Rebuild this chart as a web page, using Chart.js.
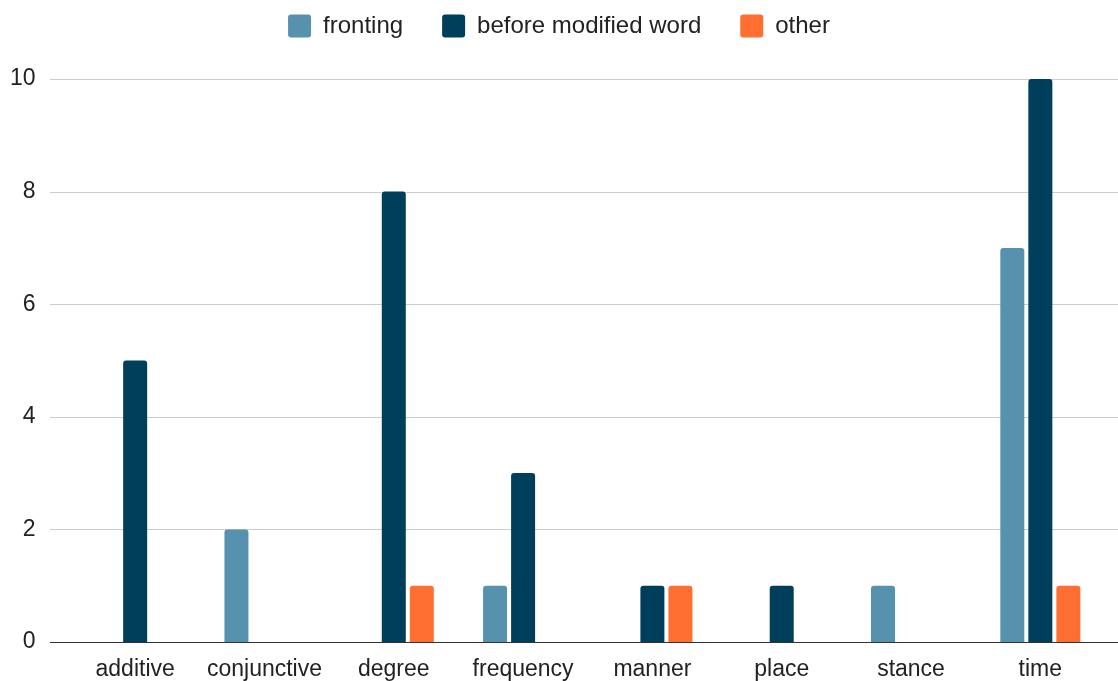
<!DOCTYPE html>
<html>
<head>
<meta charset="utf-8">
<script src="https://cdn.jsdelivr.net/npm/chart.js@4/dist/chart.umd.min.js"></script>
<style>
  html, body { margin: 0; padding: 0; background: #fff; }
  #wrap { width: 1118px; height: 681px; }
</style>
</head>
<body>
<div id="wrap"><canvas id="c" width="1118" height="681"></canvas></div>
<script>
const categories = ['additive', 'conjunctive', 'degree', 'frequency', 'manner', 'place', 'stance', 'time'];
const fronting = [0, 2, 0, 1, 0, 0, 1, 7];
const beforeModifiedWord = [5, 0, 8, 3, 1, 1, 0, 10];
const other = [0, 0, 1, 0, 1, 0, 0, 1];
const yTicks = [0, 2, 4, 6, 8, 10];

const FONT = '"Liberation Sans", Arial, sans-serif';
const FONT_SIZE = 23;
const LEGEND_FONT_SIZE = 24;

// horizontal gridlines run the full plot width, past the category band
const wideGrid = {
  id: 'wideGrid',
  beforeDatasetsDraw(chart) {
    const y = chart.scales.y, ctx = chart.ctx;
    ctx.save();
    ctx.strokeStyle = '#cccccc';
    ctx.lineWidth = 1;
    yTicks.forEach(v => {
      if (v === 0) return;
      const py = Math.round(y.getPixelForValue(v)) + 0.5;
      ctx.beginPath(); ctx.moveTo(50, py); ctx.lineTo(1118, py); ctx.stroke();
    });
    ctx.restore();
  },
  afterDatasetsDraw(chart) {
    const y = chart.scales.y, ctx = chart.ctx;
    const py = Math.round(y.getPixelForValue(0)) + 0.5;
    ctx.save();
    ctx.strokeStyle = '#333333';
    ctx.lineWidth = 1.2;
    ctx.beginPath(); ctx.moveTo(50, py); ctx.lineTo(1118, py); ctx.stroke();
    ctx.restore();
  }
};

// extra room between the legend row and the plot
const legendGap = {
  id: 'legendGap',
  beforeLayout(chart) {
    const lg = chart.legend;
    if (lg && !lg._gapPatched) {
      const fit = lg.fit;
      lg.fit = function () { fit.call(this); this.height += 31; };
      lg._gapPatched = true;
    }
  }
};

const barStyle = { borderRadius: 3, borderSkipped: 'start', categoryPercentage: 0.65, barPercentage: 0.857 };

new Chart(document.getElementById('c'), {
  type: 'bar',
  data: {
    labels: categories,
    datasets: [
      Object.assign({ label: 'fronting', data: fronting, backgroundColor: '#5691ad' }, barStyle),
      Object.assign({ label: 'before modified word', data: beforeModifiedWord, backgroundColor: '#003f5c' }, barStyle),
      Object.assign({ label: 'other', data: other, backgroundColor: '#ff6f31' }, barStyle)
    ]
  },
  options: {
    responsive: false,
    animation: false,
    layout: { padding: { left: 0, right: 0, top: -25, bottom: 0 } },
    plugins: {
      tooltip: { enabled: false },
      legend: {
        position: 'top',
        labels: {
          font: { family: FONT, size: LEGEND_FONT_SIZE },
          color: '#222222',
          boxWidth: 23,
          boxHeight: 23,
          padding: 39,
          useBorderRadius: true,
          borderRadius: 3
        }
      }
    },
    scales: {
      x: {
        grid: { display: false, drawTicks: false },
        border: { display: false },
        ticks: { font: { family: FONT, size: FONT_SIZE }, color: '#222222', padding: 14, maxRotation: 0 },
        afterFit(s) { s.height = 39; }
      },
      y: {
        min: 0, max: 10,
        grid: { display: false, drawTicks: false },
        border: { display: false },
        ticks: {
          stepSize: 2,
          font: { family: FONT, size: FONT_SIZE },
          color: '#222222',
          padding: 35
        },
        afterFit(s) {
          s.width = 70.5;
          s.paddingTop = 12;
          s.paddingBottom = 12;
        }
      },
      // empty right-hand margin strip
      yRight: {
        position: 'right',
        min: 0, max: 10,
        grid: { display: false, drawTicks: false },
        border: { display: false },
        ticks: { display: false },
        afterFit(s) {
          s.width = 13;
          s.paddingTop = 0;
          s.paddingBottom = 0;
        }
      }
    }
  },
  plugins: [wideGrid, legendGap]
});
</script>
</body>
</html>
